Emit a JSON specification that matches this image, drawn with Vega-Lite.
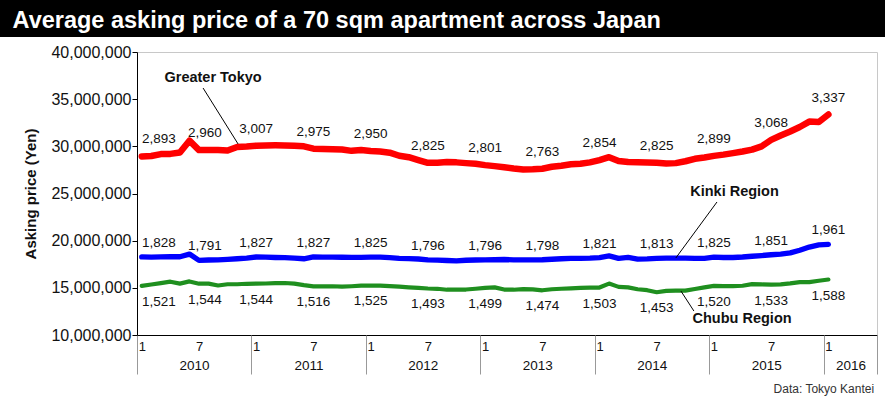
{
  "$schema": "https://vega.github.io/schema/vega-lite/v6.json",
  "background": "white",
  "autosize": "none",
  "padding": {"left": 137, "top": 52, "right": 8, "bottom": 65},
  "width": 740,
  "height": 283,
  "config": {"font": "Liberation Sans", "view": {"stroke": "#c8c8c8"}},
  "datasets": {
    "prices": [
      {"month": 0, "Greater Tokyo": 2893, "Kinki Region": 1828, "Chubu Region": 1521},
      {"month": 1, "Greater Tokyo": 2897, "Kinki Region": 1826, "Chubu Region": 1535},
      {"month": 2, "Greater Tokyo": 2918, "Kinki Region": 1828, "Chubu Region": 1550},
      {"month": 3, "Greater Tokyo": 2920, "Kinki Region": 1830, "Chubu Region": 1565},
      {"month": 4, "Greater Tokyo": 2935, "Kinki Region": 1830, "Chubu Region": 1545},
      {"month": 5, "Greater Tokyo": 3060, "Kinki Region": 1858, "Chubu Region": 1568},
      {"month": 6, "Greater Tokyo": 2960, "Kinki Region": 1791, "Chubu Region": 1544},
      {"month": 7, "Greater Tokyo": 2962, "Kinki Region": 1795, "Chubu Region": 1544},
      {"month": 8, "Greater Tokyo": 2960, "Kinki Region": 1797, "Chubu Region": 1525},
      {"month": 9, "Greater Tokyo": 2955, "Kinki Region": 1802, "Chubu Region": 1538},
      {"month": 10, "Greater Tokyo": 2993, "Kinki Region": 1808, "Chubu Region": 1538},
      {"month": 11, "Greater Tokyo": 2998, "Kinki Region": 1815, "Chubu Region": 1543},
      {"month": 12, "Greater Tokyo": 3007, "Kinki Region": 1827, "Chubu Region": 1544},
      {"month": 13, "Greater Tokyo": 3010, "Kinki Region": 1825, "Chubu Region": 1546},
      {"month": 14, "Greater Tokyo": 3011, "Kinki Region": 1822, "Chubu Region": 1549},
      {"month": 15, "Greater Tokyo": 3010, "Kinki Region": 1820, "Chubu Region": 1551},
      {"month": 16, "Greater Tokyo": 3006, "Kinki Region": 1815, "Chubu Region": 1545},
      {"month": 17, "Greater Tokyo": 3000, "Kinki Region": 1808, "Chubu Region": 1528},
      {"month": 18, "Greater Tokyo": 2975, "Kinki Region": 1827, "Chubu Region": 1516},
      {"month": 19, "Greater Tokyo": 2973, "Kinki Region": 1826, "Chubu Region": 1515},
      {"month": 20, "Greater Tokyo": 2970, "Kinki Region": 1825, "Chubu Region": 1517},
      {"month": 21, "Greater Tokyo": 2966, "Kinki Region": 1824, "Chubu Region": 1512},
      {"month": 22, "Greater Tokyo": 2952, "Kinki Region": 1823, "Chubu Region": 1517},
      {"month": 23, "Greater Tokyo": 2960, "Kinki Region": 1823, "Chubu Region": 1523},
      {"month": 24, "Greater Tokyo": 2950, "Kinki Region": 1825, "Chubu Region": 1525},
      {"month": 25, "Greater Tokyo": 2945, "Kinki Region": 1825, "Chubu Region": 1524},
      {"month": 26, "Greater Tokyo": 2933, "Kinki Region": 1820, "Chubu Region": 1518},
      {"month": 27, "Greater Tokyo": 2900, "Kinki Region": 1813, "Chubu Region": 1512},
      {"month": 28, "Greater Tokyo": 2885, "Kinki Region": 1810, "Chubu Region": 1505},
      {"month": 29, "Greater Tokyo": 2855, "Kinki Region": 1806, "Chubu Region": 1500},
      {"month": 30, "Greater Tokyo": 2825, "Kinki Region": 1796, "Chubu Region": 1493},
      {"month": 31, "Greater Tokyo": 2826, "Kinki Region": 1793, "Chubu Region": 1490},
      {"month": 32, "Greater Tokyo": 2835, "Kinki Region": 1790, "Chubu Region": 1480},
      {"month": 33, "Greater Tokyo": 2830, "Kinki Region": 1785, "Chubu Region": 1480},
      {"month": 34, "Greater Tokyo": 2822, "Kinki Region": 1792, "Chubu Region": 1482},
      {"month": 35, "Greater Tokyo": 2815, "Kinki Region": 1795, "Chubu Region": 1490},
      {"month": 36, "Greater Tokyo": 2801, "Kinki Region": 1796, "Chubu Region": 1499},
      {"month": 37, "Greater Tokyo": 2790, "Kinki Region": 1798, "Chubu Region": 1505},
      {"month": 38, "Greater Tokyo": 2778, "Kinki Region": 1800, "Chubu Region": 1482},
      {"month": 39, "Greater Tokyo": 2765, "Kinki Region": 1797, "Chubu Region": 1480},
      {"month": 40, "Greater Tokyo": 2755, "Kinki Region": 1796, "Chubu Region": 1487},
      {"month": 41, "Greater Tokyo": 2757, "Kinki Region": 1797, "Chubu Region": 1484},
      {"month": 42, "Greater Tokyo": 2763, "Kinki Region": 1798, "Chubu Region": 1474},
      {"month": 43, "Greater Tokyo": 2783, "Kinki Region": 1803, "Chubu Region": 1485},
      {"month": 44, "Greater Tokyo": 2795, "Kinki Region": 1808, "Chubu Region": 1490},
      {"month": 45, "Greater Tokyo": 2810, "Kinki Region": 1812, "Chubu Region": 1495},
      {"month": 46, "Greater Tokyo": 2815, "Kinki Region": 1812, "Chubu Region": 1500},
      {"month": 47, "Greater Tokyo": 2830, "Kinki Region": 1815, "Chubu Region": 1503},
      {"month": 48, "Greater Tokyo": 2854, "Kinki Region": 1821, "Chubu Region": 1503},
      {"month": 49, "Greater Tokyo": 2885, "Kinki Region": 1838, "Chubu Region": 1545},
      {"month": 50, "Greater Tokyo": 2845, "Kinki Region": 1812, "Chubu Region": 1510},
      {"month": 51, "Greater Tokyo": 2833, "Kinki Region": 1822, "Chubu Region": 1505},
      {"month": 52, "Greater Tokyo": 2830, "Kinki Region": 1805, "Chubu Region": 1485},
      {"month": 53, "Greater Tokyo": 2828, "Kinki Region": 1807, "Chubu Region": 1475},
      {"month": 54, "Greater Tokyo": 2825, "Kinki Region": 1813, "Chubu Region": 1453},
      {"month": 55, "Greater Tokyo": 2818, "Kinki Region": 1815, "Chubu Region": 1468},
      {"month": 56, "Greater Tokyo": 2822, "Kinki Region": 1815, "Chubu Region": 1470},
      {"month": 57, "Greater Tokyo": 2842, "Kinki Region": 1815, "Chubu Region": 1470},
      {"month": 58, "Greater Tokyo": 2868, "Kinki Region": 1813, "Chubu Region": 1488},
      {"month": 59, "Greater Tokyo": 2882, "Kinki Region": 1812, "Chubu Region": 1505},
      {"month": 60, "Greater Tokyo": 2899, "Kinki Region": 1825, "Chubu Region": 1520},
      {"month": 61, "Greater Tokyo": 2912, "Kinki Region": 1822, "Chubu Region": 1519},
      {"month": 62, "Greater Tokyo": 2928, "Kinki Region": 1822, "Chubu Region": 1519},
      {"month": 63, "Greater Tokyo": 2945, "Kinki Region": 1827, "Chubu Region": 1522},
      {"month": 64, "Greater Tokyo": 2965, "Kinki Region": 1835, "Chubu Region": 1540},
      {"month": 65, "Greater Tokyo": 3000, "Kinki Region": 1842, "Chubu Region": 1536},
      {"month": 66, "Greater Tokyo": 3068, "Kinki Region": 1851, "Chubu Region": 1533},
      {"month": 67, "Greater Tokyo": 3115, "Kinki Region": 1858, "Chubu Region": 1536},
      {"month": 68, "Greater Tokyo": 3158, "Kinki Region": 1870, "Chubu Region": 1547},
      {"month": 69, "Greater Tokyo": 3205, "Kinki Region": 1898, "Chubu Region": 1561},
      {"month": 70, "Greater Tokyo": 3262, "Kinki Region": 1932, "Chubu Region": 1561},
      {"month": 71, "Greater Tokyo": 3258, "Kinki Region": 1955, "Chubu Region": 1575},
      {"month": 72, "Greater Tokyo": 3337, "Kinki Region": 1961, "Chubu Region": 1588}
    ],
    "notes": [
      {"label": "Greater Tokyo", "month": 7.48, "price": 3724, "fromMonth": 6.43, "fromPrice": 3618, "toMonth": 10.1, "toPrice": 3025},
      {"label": "Kinki Region", "month": 62.16, "price": 2516, "fromMonth": 60.32, "fromPrice": 2410, "toMonth": 56.0, "toPrice": 1816},
      {"label": "Chubu Region", "month": 62.95, "price": 1170, "fromMonth": 56.54, "fromPrice": 1466, "toMonth": 57.9, "toPrice": 1254}
    ],
    "header": [
      {"title": "Average asking price of a 70 sqm apartment across Japan", "source": "Data: Tokyo Kantei"}
    ]
  },
  "layer": [
    {
      "data": {"name": "header"},
      "mark": {"type": "rect", "color": "black"},
      "encoding": {
        "x": {"datum": -15, "type": "quantitative", "axis": null},
        "x2": {"datum": 78.2},
        "y": {"datum": 4600, "type": "quantitative"},
        "y2": {"datum": 4159}
      }
    },
    {
      "data": {"name": "header"},
      "mark": {"type": "text", "color": "white", "fontSize": 23.5, "fontWeight": "bold", "align": "left", "baseline": "alphabetic"},
      "encoding": {
        "x": {"datum": -13.55, "type": "quantitative", "axis": null},
        "y": {"datum": 4251, "type": "quantitative"},
        "text": {"field": "title"}
      }
    },
    {
      "data": {"name": "header"},
      "mark": {"type": "text", "color": "#333", "fontSize": 12, "align": "right", "baseline": "middle"},
      "encoding": {
        "x": {"datum": 76.8, "type": "quantitative", "axis": null},
        "y": {"datum": 427, "type": "quantitative"},
        "text": {"field": "source"}
      }
    },
    {
      "data": {"name": "prices"},
      "transform": [{"fold": ["Greater Tokyo", "Kinki Region", "Chubu Region"], "as": ["series", "price"]}],
      "mark": {"type": "line", "strokeCap": "round", "strokeJoin": "round"},
      "encoding": {
        "x": {
          "field": "month", "type": "quantitative",
          "scale": {"domain": [-0.5, 77.1], "nice": false, "zero": false},
          "axis": {
            "orient": "bottom",
            "values": [0, 6, 12, 18, 24, 30, 36, 42, 48, 54, 60, 66, 72],
            "labelExpr": "datum.value % 12 == 0 ? '1' : '7'",
            "ticks": false, "labelPadding": 5, "labelFontSize": 13, "labelColor": "#111",
            "domainColor": "black", "grid": false, "title": null,
            "labelFlush": false, "labelOverlap": false
          }
        },
        "y": {
          "field": "price", "type": "quantitative",
          "scale": {"domain": [1000, 4000], "nice": false, "zero": false},
          "axis": {
            "values": [1000, 1500, 2000, 2500, 3000, 3500, 4000],
            "labelExpr": "format(datum.value * 10000, ',')",
            "title": "Asking price (Yen)",
            "titleFontSize": 15, "titleFontWeight": "bold", "titleColor": "#111", "titlePadding": 12,
            "labelFontSize": 16, "labelColor": "#111", "labelPadding": 1,
            "tickSize": 5, "tickColor": "black", "domainColor": "black", "grid": false
          }
        },
        "color": {
          "field": "series", "type": "nominal",
          "scale": {"domain": ["Greater Tokyo", "Kinki Region", "Chubu Region"], "range": ["#ff0000", "#0000ff", "#1f8f1f"]},
          "legend": null
        },
        "strokeWidth": {
          "field": "series", "type": "nominal",
          "scale": {"domain": ["Greater Tokyo", "Kinki Region", "Chubu Region"], "range": [6.5, 4.2, 1.5]},
          "legend": null
        }
      }
    },
    {
      "data": {"name": "prices"},
      "transform": [
        {"fold": ["Greater Tokyo", "Kinki Region", "Chubu Region"], "as": ["series", "price"]},
        {"filter": "datum.month % 6 == 0"}
      ],
      "mark": {
        "type": "text", "fontSize": 13.5, "color": "#111",
        "dy": {"expr": "datum.series == 'Chubu Region' ? 16 : (datum.series == 'Greater Tokyo' ? -17 : -14)"},
        "dx": {"expr": "datum.month == 0 ? 17 : (datum.month == 6 ? 6 : 0)"}
      },
      "encoding": {
        "x": {
          "field": "month", "type": "quantitative",
          "axis": {
            "orient": "bottom",
            "values": [-0.5, 11.5, 23.5, 35.5, 47.5, 59.5, 71.5, 77.1],
            "labelExpr": "datum.value > 77 ? '' : '' + (2010 + floor((datum.value + 0.5) / 12))",
            "domain": false, "tickSize": 39, "tickColor": "#999",
            "labelOffset": {"condition": {"test": "datum.value > 71 && datum.value < 72", "value": 27}, "value": 57},
            "labelPadding": -16, "labelFontSize": 13.5, "labelColor": "#111",
            "grid": false, "title": null, "labelFlush": false, "labelOverlap": false, "labelBound": false
          }
        },
        "y": {"field": "price", "type": "quantitative"},
        "text": {"field": "price", "type": "quantitative", "format": ","}
      }
    },
    {
      "data": {"name": "notes"},
      "mark": {"type": "rule", "color": "black", "strokeWidth": 1},
      "encoding": {
        "x": {"field": "fromMonth", "type": "quantitative", "axis": null},
        "y": {"field": "fromPrice", "type": "quantitative"},
        "x2": {"field": "toMonth"},
        "y2": {"field": "toPrice"}
      }
    },
    {
      "data": {"name": "notes"},
      "mark": {"type": "text", "fontSize": 14.5, "fontWeight": "bold", "color": "#111"},
      "encoding": {
        "x": {"field": "month", "type": "quantitative", "axis": null},
        "y": {"field": "price", "type": "quantitative"},
        "text": {"field": "label"}
      }
    }
  ],
  "resolve": {"axis": {"x": "independent"}}
}
